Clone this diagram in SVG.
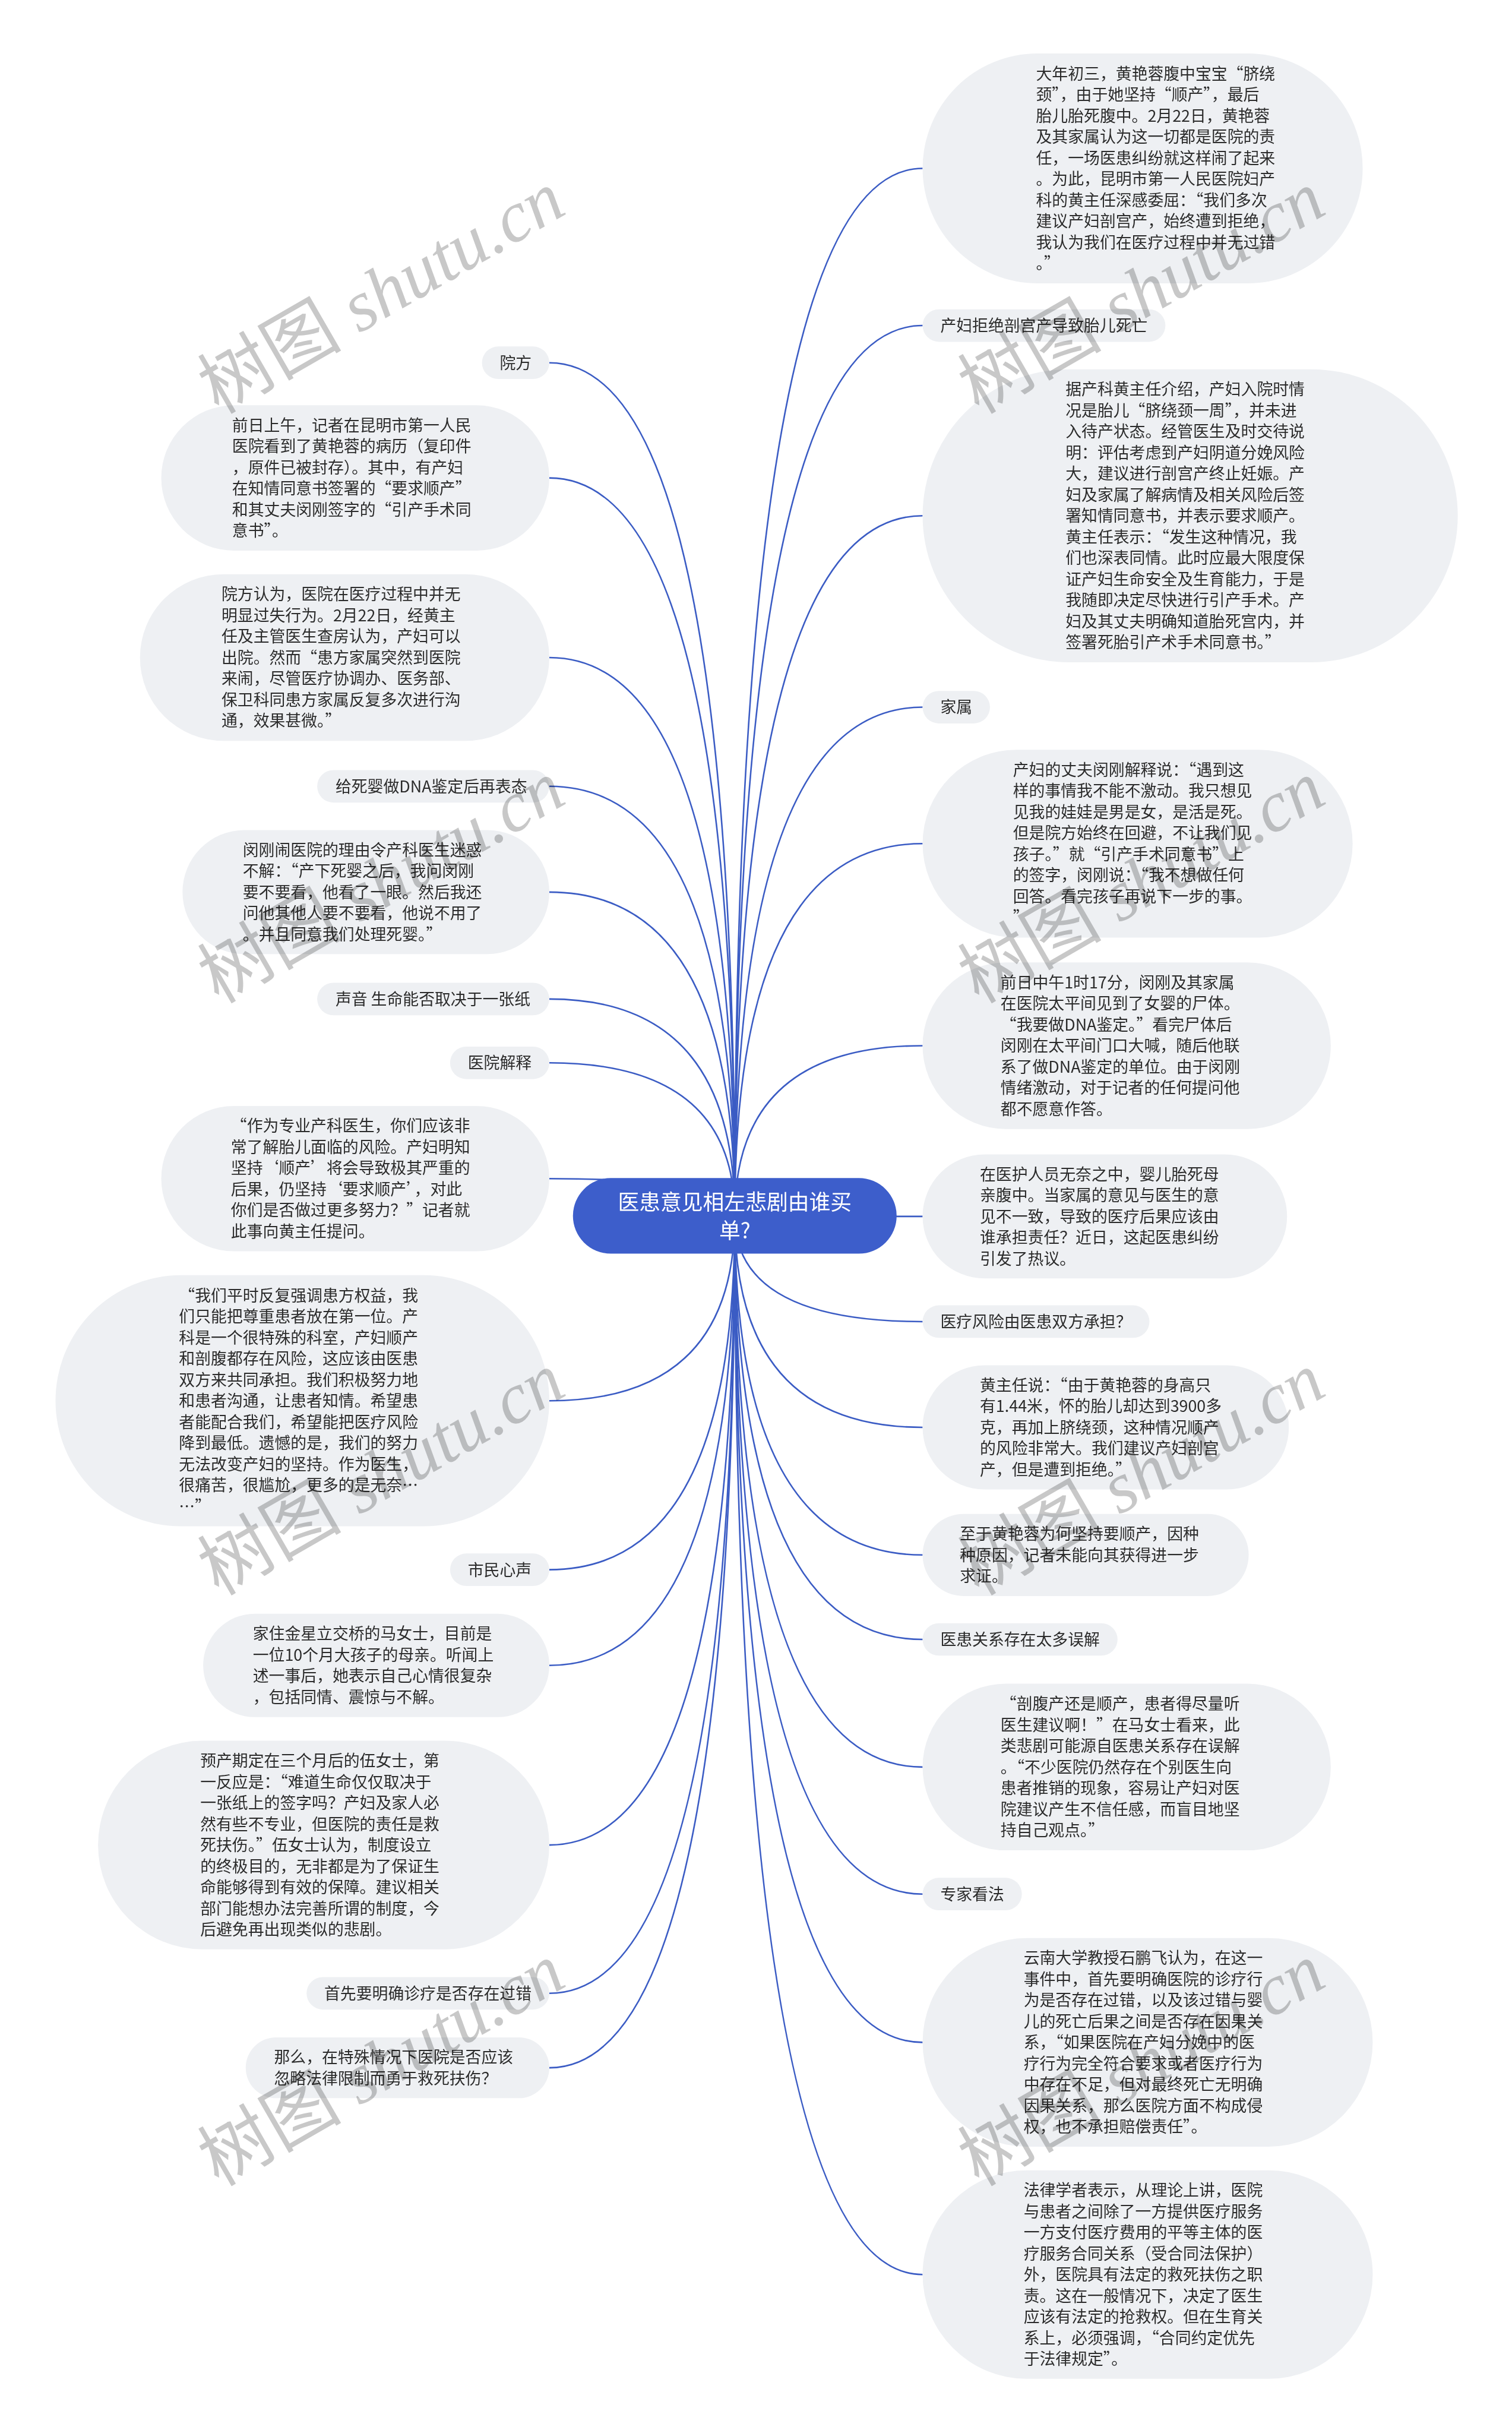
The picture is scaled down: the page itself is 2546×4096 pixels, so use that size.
<svg xmlns="http://www.w3.org/2000/svg" width="2546" height="4096" viewBox="0 0 2546 4096">
<style>
.bub{fill:#eef0f3}
.t{font-family:"Noto Sans CJK SC","Liberation Sans",sans-serif;font-size:27px;fill:#2b2b2b}
.c{fill:none;stroke:#3b5cc4;stroke-width:2.6}
.root{fill:#3d5ecb}
.rt{font-family:"Noto Sans CJK SC","Liberation Sans",sans-serif;font-size:36px;fill:#ffffff;text-anchor:middle}
.wm{font-family:"Liberation Serif","Noto Sans CJK SC",serif;font-size:122px;fill:#c8c8c8;mix-blend-mode:multiply}
</style>
<rect width="2546" height="4096" fill="#ffffff"/>
<g transform="scale(0.9946)">
<g id="connectors">
<path class="c" d="M1244 2058 Q1244 285 1562 285"/>
<path class="c" d="M1244 2058 Q1244 551 1562 551"/>
<path class="c" d="M1244 2058 Q1244 873 1562 873"/>
<path class="c" d="M1244 2058 Q1244 1197 1562 1197"/>
<path class="c" d="M1244 2058 Q1244 1428 1562 1428"/>
<path class="c" d="M1244 2058 Q1244 1770 1562 1770"/>
<path class="c" d="M1244 2058 Q1244 2059 1562 2059"/>
<path class="c" d="M1244 2058 Q1244 2237 1562 2237"/>
<path class="c" d="M1244 2058 Q1244 2416 1562 2416"/>
<path class="c" d="M1244 2058 Q1244 2632 1562 2632"/>
<path class="c" d="M1244 2058 Q1244 2775 1562 2775"/>
<path class="c" d="M1244 2058 Q1244 2991 1562 2991"/>
<path class="c" d="M1244 2058 Q1244 3206 1562 3206"/>
<path class="c" d="M1244 2058 Q1244 3457 1562 3457"/>
<path class="c" d="M1244 2058 Q1244 3850 1562 3850"/>
<path class="c" d="M1244 2058 Q1244 614 930 614"/>
<path class="c" d="M1244 2058 Q1244 809 930 809"/>
<path class="c" d="M1244 2058 Q1244 1113 930 1113"/>
<path class="c" d="M1244 2058 Q1244 1331 930 1331"/>
<path class="c" d="M1244 2058 Q1244 1510 930 1510"/>
<path class="c" d="M1244 2058 Q1244 1691 930 1691"/>
<path class="c" d="M1244 2058 Q1244 1799 930 1799"/>
<path class="c" d="M1244 2058 Q1244 1995 930 1995"/>
<path class="c" d="M1244 2058 Q1244 2371 930 2371"/>
<path class="c" d="M1244 2058 Q1244 2657 930 2657"/>
<path class="c" d="M1244 2058 Q1244 2819 930 2819"/>
<path class="c" d="M1244 2058 Q1244 3123 930 3123"/>
<path class="c" d="M1244 2058 Q1244 3374 930 3374"/>
<path class="c" d="M1244 2058 Q1244 3500 930 3500"/>
</g>

<g id="root">
<rect class="root" x="970" y="1994" width="548" height="128" rx="64"/>
<text class="rt"><tspan x="1244" y="2048">医患意见相左悲剧由谁买</tspan><tspan x="1244" y="2096">单?</tspan></text>
</g>

<g id="r1">
<rect class="bub" x="1562" y="90.5" width="745" height="389" rx="194.5"/>
<text class="t"><tspan x="1754" y="134.4">大年初三，黄艳蓉腹中宝宝“脐绕</tspan><tspan x="1754" dy="35.7">颈”，由于她坚持“顺产”，最后</tspan><tspan x="1754" dy="35.7">胎儿胎死腹中。2月22日，黄艳蓉</tspan><tspan x="1754" dy="35.7">及其家属认为这一切都是医院的责</tspan><tspan x="1754" dy="35.7">任，一场医患纠纷就这样闹了起来</tspan><tspan x="1754" dy="35.7">。为此，昆明市第一人民医院妇产</tspan><tspan x="1754" dy="35.7">科的黄主任深感委屈：“我们多次</tspan><tspan x="1754" dy="35.7">建议产妇剖宫产，始终遭到拒绝，</tspan><tspan x="1754" dy="35.7">我认为我们在医疗过程中并无过错</tspan><tspan x="1754" dy="35.7">。”</tspan></text>
</g>
<g id="r2">
<rect class="bub" x="1562" y="523.5" width="411" height="55" rx="27.5"/>
<text class="t" x="1592" y="561">产妇拒绝剖宫产导致胎儿死亡</text>
</g>
<g id="r3">
<rect class="bub" x="1562" y="625" width="906" height="496" rx="248"/>
<text class="t"><tspan x="1804" y="668.8">据产科黄主任介绍，产妇入院时情</tspan><tspan x="1804" dy="35.7">况是胎儿“脐绕颈一周”，并未进</tspan><tspan x="1804" dy="35.7">入待产状态。经管医生及时交待说</tspan><tspan x="1804" dy="35.7">明：评估考虑到产妇阴道分娩风险</tspan><tspan x="1804" dy="35.7">大，建议进行剖宫产终止妊娠。产</tspan><tspan x="1804" dy="35.7">妇及家属了解病情及相关风险后签</tspan><tspan x="1804" dy="35.7">署知情同意书，并表示要求顺产。</tspan><tspan x="1804" dy="35.7">黄主任表示：“发生这种情况，我</tspan><tspan x="1804" dy="35.7">们也深表同情。此时应最大限度保</tspan><tspan x="1804" dy="35.7">证产妇生命安全及生育能力，于是</tspan><tspan x="1804" dy="35.7">我随即决定尽快进行引产手术。产</tspan><tspan x="1804" dy="35.7">妇及其丈夫明确知道胎死宫内，并</tspan><tspan x="1804" dy="35.7">签署死胎引产术手术同意书。”</tspan></text>
</g>
<g id="r4">
<rect class="bub" x="1562" y="1169.5" width="114" height="55" rx="27.5"/>
<text class="t" x="1592" y="1207">家属</text>
</g>
<g id="r5">
<rect class="bub" x="1562" y="1269" width="728" height="318" rx="159"/>
<text class="t"><tspan x="1715" y="1313">产妇的丈夫闵刚解释说：“遇到这</tspan><tspan x="1715" dy="35.7">样的事情我不能不激动。我只想见</tspan><tspan x="1715" dy="35.7">见我的娃娃是男是女，是活是死。</tspan><tspan x="1715" dy="35.7">但是院方始终在回避，不让我们见</tspan><tspan x="1715" dy="35.7">孩子。”就“引产手术同意书”上</tspan><tspan x="1715" dy="35.7">的签字，闵刚说：“我不想做任何</tspan><tspan x="1715" dy="35.7">回答。看完孩子再说下一步的事。</tspan><tspan x="1715" dy="35.7">”</tspan></text>
</g>
<g id="r6">
<rect class="bub" x="1562" y="1629" width="691" height="282" rx="141"/>
<text class="t"><tspan x="1694" y="1672.9">前日中午1时17分，闵刚及其家属</tspan><tspan x="1694" dy="35.7">在医院太平间见到了女婴的尸体。</tspan><tspan x="1694" dy="35.7">“我要做DNA鉴定。”看完尸体后</tspan><tspan x="1694" dy="35.7">闵刚在太平间门口大喊，随后他联</tspan><tspan x="1694" dy="35.7">系了做DNA鉴定的单位。由于闵刚</tspan><tspan x="1694" dy="35.7">情绪激动，对于记者的任何提问他</tspan><tspan x="1694" dy="35.7">都不愿意作答。</tspan></text>
</g>
<g id="r7">
<rect class="bub" x="1562" y="1954" width="617" height="210" rx="105"/>
<text class="t"><tspan x="1659" y="1997.6">在医护人员无奈之中，婴儿胎死母</tspan><tspan x="1659" dy="35.7">亲腹中。当家属的意见与医生的意</tspan><tspan x="1659" dy="35.7">见不一致，导致的医疗后果应该由</tspan><tspan x="1659" dy="35.7">谁承担责任？近日，这起医患纠纷</tspan><tspan x="1659" dy="35.7">引发了热议。</tspan></text>
</g>
<g id="r8">
<rect class="bub" x="1562" y="2209.5" width="384" height="55" rx="27.5"/>
<text class="t" x="1592" y="2247">医疗风险由医患双方承担？</text>
</g>
<g id="r9">
<rect class="bub" x="1562" y="2311" width="620" height="210" rx="105"/>
<text class="t"><tspan x="1659" y="2354.6">黄主任说：“由于黄艳蓉的身高只</tspan><tspan x="1659" dy="35.7">有1.44米，怀的胎儿却达到3900多</tspan><tspan x="1659" dy="35.7">克，再加上脐绕颈，这种情况顺产</tspan><tspan x="1659" dy="35.7">的风险非常大。我们建议产妇剖宫</tspan><tspan x="1659" dy="35.7">产，但是遭到拒绝。”</tspan></text>
</g>
<g id="r10">
<rect class="bub" x="1562" y="2562.5" width="552" height="139" rx="69.5"/>
<text class="t"><tspan x="1625" y="2606.3">至于黄艳蓉为何坚持要顺产，因种</tspan><tspan x="1625" dy="35.7">种原因，记者未能向其获得进一步</tspan><tspan x="1625" dy="35.7">求证。</tspan></text>
</g>
<g id="r11">
<rect class="bub" x="1562" y="2747.5" width="330" height="55" rx="27.5"/>
<text class="t" x="1592" y="2785">医患关系存在太多误解</text>
</g>
<g id="r12">
<rect class="bub" x="1562" y="2850" width="691" height="282" rx="141"/>
<text class="t"><tspan x="1694" y="2893.9">“剖腹产还是顺产，患者得尽量听</tspan><tspan x="1694" dy="35.7">医生建议啊！”在马女士看来，此</tspan><tspan x="1694" dy="35.7">类悲剧可能源自医患关系存在误解</tspan><tspan x="1694" dy="35.7">。“不少医院仍然存在个别医生向</tspan><tspan x="1694" dy="35.7">患者推销的现象，容易让产妇对医</tspan><tspan x="1694" dy="35.7">院建议产生不信任感，而盲目地坚</tspan><tspan x="1694" dy="35.7">持自己观点。”</tspan></text>
</g>
<g id="r13">
<rect class="bub" x="1562" y="3178.5" width="168" height="55" rx="27.5"/>
<text class="t" x="1592" y="3216">专家看法</text>
</g>
<g id="r14">
<rect class="bub" x="1562" y="3280.5" width="762" height="353" rx="176.5"/>
<text class="t"><tspan x="1733" y="3324.2">云南大学教授石鹏飞认为，在这一</tspan><tspan x="1733" dy="35.7">事件中，首先要明确医院的诊疗行</tspan><tspan x="1733" dy="35.7">为是否存在过错，以及该过错与婴</tspan><tspan x="1733" dy="35.7">儿的死亡后果之间是否存在因果关</tspan><tspan x="1733" dy="35.7">系，“如果医院在产妇分娩中的医</tspan><tspan x="1733" dy="35.7">疗行为完全符合要求或者医疗行为</tspan><tspan x="1733" dy="35.7">中存在不足，但对最终死亡无明确</tspan><tspan x="1733" dy="35.7">因果关系，那么医院方面不构成侵</tspan><tspan x="1733" dy="35.7">权，也不承担赔偿责任”。</tspan></text>
</g>
<g id="r15">
<rect class="bub" x="1562" y="3673.5" width="762" height="353" rx="176.5"/>
<text class="t"><tspan x="1733" y="3717.2">法律学者表示，从理论上讲，医院</tspan><tspan x="1733" dy="35.7">与患者之间除了一方提供医疗服务</tspan><tspan x="1733" dy="35.7">一方支付医疗费用的平等主体的医</tspan><tspan x="1733" dy="35.7">疗服务合同关系（受合同法保护）</tspan><tspan x="1733" dy="35.7">外，医院具有法定的救死扶伤之职</tspan><tspan x="1733" dy="35.7">责。这在一般情况下，决定了医生</tspan><tspan x="1733" dy="35.7">应该有法定的抢救权。但在生育关</tspan><tspan x="1733" dy="35.7">系上，必须强调，“合同约定优先</tspan><tspan x="1733" dy="35.7">于法律规定”。</tspan></text>
</g>

<g id="l1">
<rect class="bub" x="816" y="586.5" width="114" height="55" rx="27.5"/>
<text class="t" x="846" y="624">院方</text>
</g>
<g id="l2">
<rect class="bub" x="273" y="686" width="657" height="246" rx="123"/>
<text class="t"><tspan x="393" y="729.75">前日上午，记者在昆明市第一人民</tspan><tspan x="393" dy="35.7">医院看到了黄艳蓉的病历（复印件</tspan><tspan x="393" dy="35.7">，原件已被封存）。其中，有产妇</tspan><tspan x="393" dy="35.7">在知情同意书签署的“要求顺产”</tspan><tspan x="393" dy="35.7">和其丈夫闵刚签字的“引产手术同</tspan><tspan x="393" dy="35.7">意书”。</tspan></text>
</g>
<g id="l3">
<rect class="bub" x="237" y="972" width="693" height="282" rx="141"/>
<text class="t"><tspan x="375" y="1015.9">院方认为，医院在医疗过程中并无</tspan><tspan x="375" dy="35.7">明显过失行为。2月22日，经黄主</tspan><tspan x="375" dy="35.7">任及主管医生查房认为，产妇可以</tspan><tspan x="375" dy="35.7">出院。然而“患方家属突然到医院</tspan><tspan x="375" dy="35.7">来闹，尽管医疗协调办、医务部、</tspan><tspan x="375" dy="35.7">保卫科同患方家属反复多次进行沟</tspan><tspan x="375" dy="35.7">通，效果甚微。”</tspan></text>
</g>
<g id="l4">
<rect class="bub" x="537" y="1303.5" width="393" height="55" rx="27.5"/>
<text class="t" x="568" y="1341">给死婴做DNA鉴定后再表态</text>
</g>
<g id="l5">
<rect class="bub" x="309" y="1405" width="621" height="210" rx="105"/>
<text class="t"><tspan x="411" y="1448.6">闵刚闹医院的理由令产科医生迷惑</tspan><tspan x="411" dy="35.7">不解：“产下死婴之后，我问闵刚</tspan><tspan x="411" dy="35.7">要不要看，他看了一眼。然后我还</tspan><tspan x="411" dy="35.7">问他其他人要不要看，他说不用了</tspan><tspan x="411" dy="35.7">。并且同意我们处理死婴。”</tspan></text>
</g>
<g id="l6">
<rect class="bub" x="537" y="1663.5" width="393" height="55" rx="27.5"/>
<text class="t" x="568" y="1701">声音 生命能否取决于一张纸</text>
</g>
<g id="l7">
<rect class="bub" x="762" y="1771.5" width="168" height="55" rx="27.5"/>
<text class="t" x="792" y="1809">医院解释</text>
</g>
<g id="l8">
<rect class="bub" x="273" y="1872" width="657" height="246" rx="123"/>
<text class="t"><tspan x="391" y="1915.75">“作为专业产科医生，你们应该非</tspan><tspan x="391" dy="35.7">常了解胎儿面临的风险。产妇明知</tspan><tspan x="391" dy="35.7">坚持‘顺产’将会导致极其严重的</tspan><tspan x="391" dy="35.7">后果，仍坚持‘要求顺产’，对此</tspan><tspan x="391" dy="35.7">你们是否做过更多努力？”记者就</tspan><tspan x="391" dy="35.7">此事向黄主任提问。</tspan></text>
</g>
<g id="l9">
<rect class="bub" x="94" y="2158.5" width="836" height="425" rx="212.5"/>
<text class="t"><tspan x="303" y="2202.5">“我们平时反复强调患方权益，我</tspan><tspan x="303" dy="35.7">们只能把尊重患者放在第一位。产</tspan><tspan x="303" dy="35.7">科是一个很特殊的科室，产妇顺产</tspan><tspan x="303" dy="35.7">和剖腹都存在风险，这应该由医患</tspan><tspan x="303" dy="35.7">双方来共同承担。我们积极努力地</tspan><tspan x="303" dy="35.7">和患者沟通，让患者知情。希望患</tspan><tspan x="303" dy="35.7">者能配合我们，希望能把医疗风险</tspan><tspan x="303" dy="35.7">降到最低。遗憾的是，我们的努力</tspan><tspan x="303" dy="35.7">无法改变产妇的坚持。作为医生，</tspan><tspan x="303" dy="35.7">很痛苦，很尴尬，更多的是无奈…</tspan><tspan x="303" dy="35.7">…”</tspan></text>
</g>
<g id="l10">
<rect class="bub" x="762" y="2629.5" width="168" height="55" rx="27.5"/>
<text class="t" x="792" y="2667">市民心声</text>
</g>
<g id="l11">
<rect class="bub" x="344" y="2731.5" width="586" height="175" rx="87.5"/>
<text class="t"><tspan x="428" y="2775.45">家住金星立交桥的马女士，目前是</tspan><tspan x="428" dy="35.7">一位10个月大孩子的母亲。听闻上</tspan><tspan x="428" dy="35.7">述一事后，她表示自己心情很复杂</tspan><tspan x="428" dy="35.7">，包括同情、震惊与不解。</tspan></text>
</g>
<g id="l12">
<rect class="bub" x="166" y="2946.5" width="764" height="353" rx="176.5"/>
<text class="t"><tspan x="339" y="2990.2">预产期定在三个月后的伍女士，第</tspan><tspan x="339" dy="35.7">一反应是：“难道生命仅仅取决于</tspan><tspan x="339" dy="35.7">一张纸上的签字吗？产妇及家人必</tspan><tspan x="339" dy="35.7">然有些不专业，但医院的责任是救</tspan><tspan x="339" dy="35.7">死扶伤。”伍女士认为，制度设立</tspan><tspan x="339" dy="35.7">的终极目的，无非都是为了保证生</tspan><tspan x="339" dy="35.7">命能够得到有效的保障。建议相关</tspan><tspan x="339" dy="35.7">部门能想办法完善所谓的制度，今</tspan><tspan x="339" dy="35.7">后避免再出现类似的悲剧。</tspan></text>
</g>
<g id="l13">
<rect class="bub" x="519" y="3346.5" width="411" height="55" rx="27.5"/>
<text class="t" x="549" y="3384">首先要明确诊疗是否存在过错</text>
</g>
<g id="l14">
<rect class="bub" x="416" y="3448.5" width="514" height="103" rx="51.5"/>
<text class="t"><tspan x="464" y="3492.15">那么，在特殊情况下医院是否应该</tspan><tspan x="464" dy="35.7">忽略法律限制而勇于救死扶伤？</tspan></text>
</g>

<g id="watermarks">
<text class="wm" x="370" y="702" transform="rotate(-30 370 702)">树图 <tspan font-style="italic">shutu.cn</tspan></text>
<text class="wm" x="1657" y="702" transform="rotate(-30 1657 702)">树图 <tspan font-style="italic">shutu.cn</tspan></text>
<text class="wm" x="370" y="1700" transform="rotate(-30 370 1700)">树图 <tspan font-style="italic">shutu.cn</tspan></text>
<text class="wm" x="1657" y="1700" transform="rotate(-30 1657 1700)">树图 <tspan font-style="italic">shutu.cn</tspan></text>
<text class="wm" x="370" y="2702" transform="rotate(-30 370 2702)">树图 <tspan font-style="italic">shutu.cn</tspan></text>
<text class="wm" x="1657" y="2702" transform="rotate(-30 1657 2702)">树图 <tspan font-style="italic">shutu.cn</tspan></text>
<text class="wm" x="370" y="3702" transform="rotate(-30 370 3702)">树图 <tspan font-style="italic">shutu.cn</tspan></text>
<text class="wm" x="1657" y="3702" transform="rotate(-30 1657 3702)">树图 <tspan font-style="italic">shutu.cn</tspan></text>
</g>
</g>
</svg>
